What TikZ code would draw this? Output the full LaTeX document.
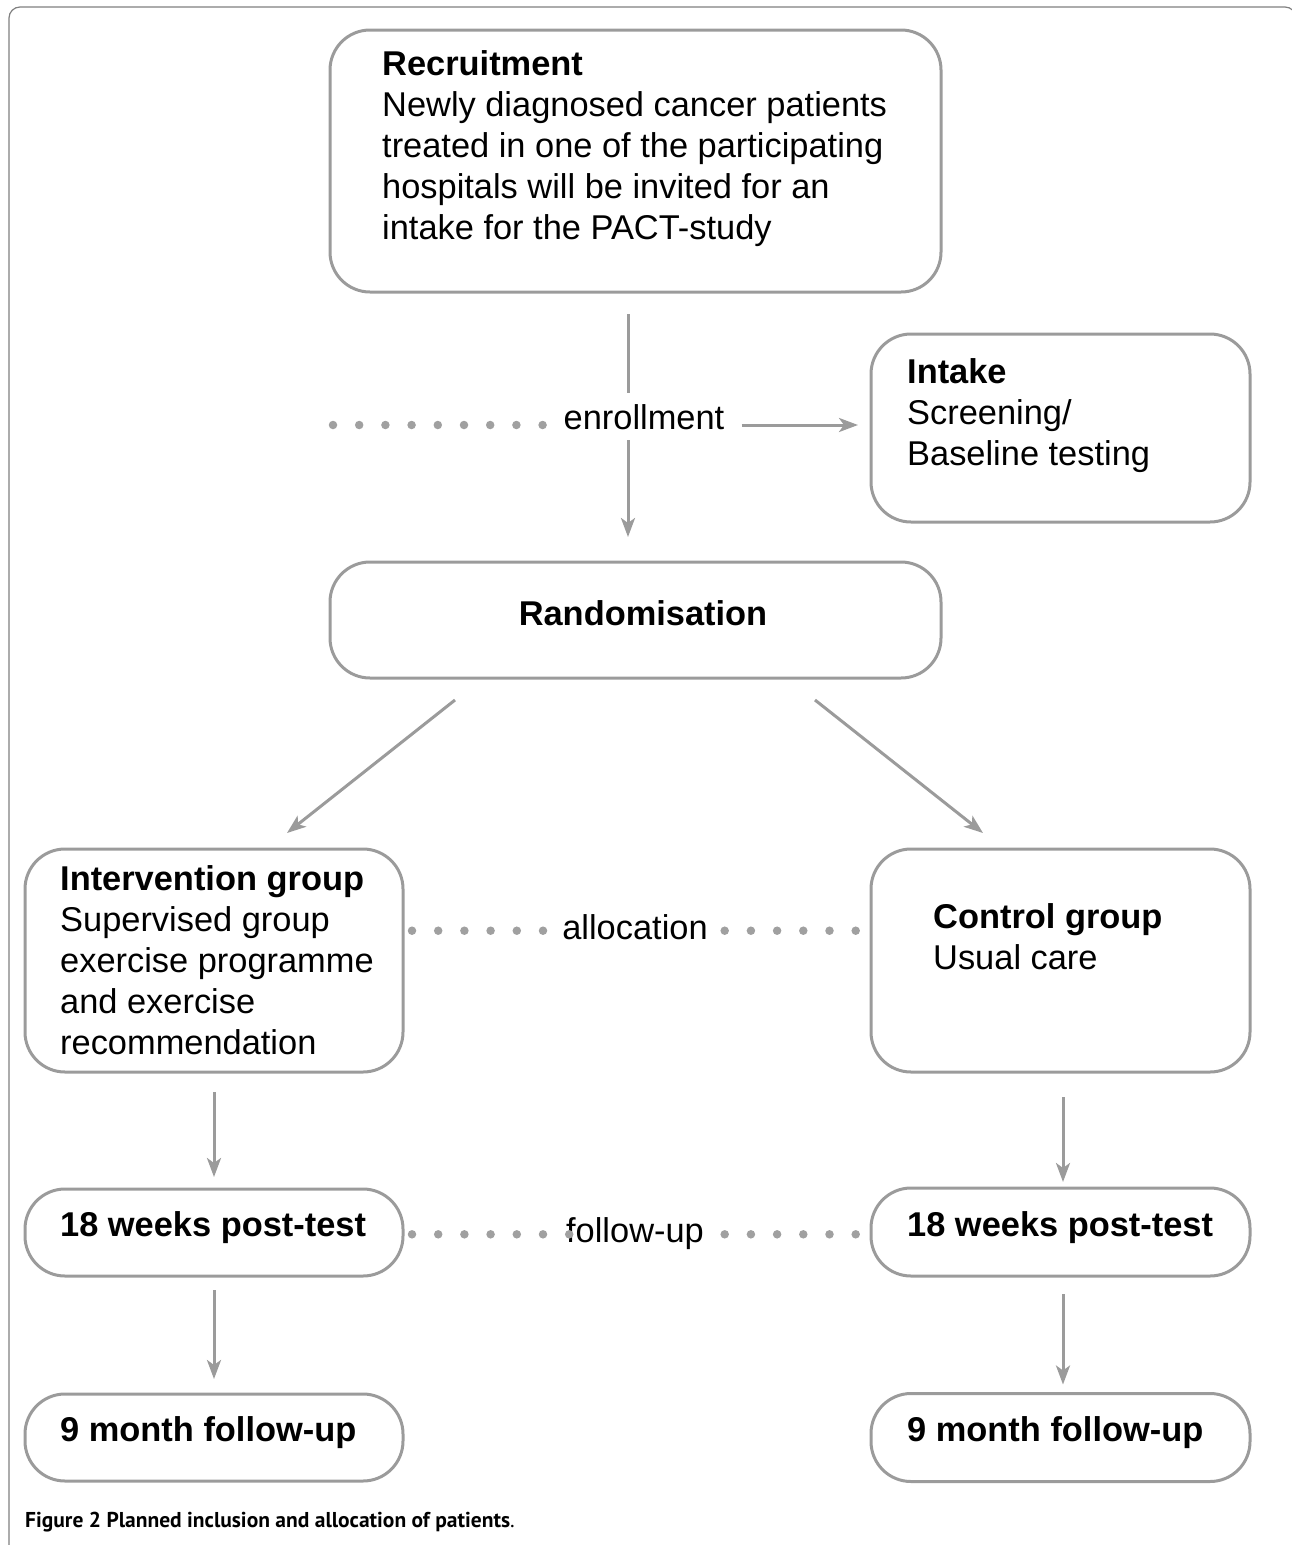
\documentclass[tikz,border=0pt]{standalone}
\usepackage{fontspec}
\setmainfont{Liberation Sans}
\newfontfamily\capfont{PT Sans}
\usetikzlibrary{arrows.meta}
\definecolor{linegray}{HTML}{9B9B9B}
\definecolor{dotgray}{HTML}{A0A0A0}
\definecolor{framegray}{HTML}{808080}
\begin{document}
\begin{tikzpicture}[x=1pt,y=-1pt,
  box/.style={draw=linegray,line width=3pt,rounded corners=40pt,inner sep=0pt,outer sep=0pt},
  txt/.style={font=\fontsize{34.4}{41}\selectfont,align=left,anchor=base west,inner sep=0pt},
  lbl/.style={font=\fontsize{34.4}{41}\selectfont,anchor=base,inner xsep=10pt,inner ysep=0pt,text height=25pt,text depth=8pt},
  ln/.style={draw=linegray,line width=3pt},
  arr/.style={ln,-{Stealth[length=19pt,width=14pt,inset=5pt]}},
  dotln/.style={draw=dotgray,line width=8.5pt,line cap=round,dash pattern=on 0pt off 26.2pt},
  frame/.style={draw=framegray,line width=1.2pt,rounded corners=11pt}]
\useasboundingbox (0,0) rectangle (1292,1545);
\draw[frame] (9,1560) -- (9,7) -- (1296,7) -- (1296,1560);

% boxes
\node[box,minimum width=611pt,minimum height=262pt] (recr) at (635.5,161) {};
\node[box,minimum width=379pt,minimum height=188pt] (intake) at (1060.5,428) {};
\node[box,minimum width=611pt,minimum height=116pt] (rand) at (635.5,620) {};
\node[box,minimum width=378pt,minimum height=223pt] (interv) at (214,960.5) {};
\node[box,minimum width=379pt,minimum height=223pt] (control) at (1060.5,960.5) {};
\node[box,minimum width=378pt,minimum height=87pt] (ptl) at (214,1232.5) {};
\node[box,minimum width=379pt,minimum height=88pt] (ptr) at (1060.5,1232) {};
\node[box,minimum width=378pt,minimum height=87pt] (ful) at (214,1437.5) {};
\node[box,minimum width=379pt,minimum height=88pt] (fur) at (1060.5,1437.5) {};

% texts (base anchor = baseline of last line)
\node[txt] (recrT) at (382,239) {\textbf{Recruitment}\\Newly diagnosed cancer patients\\treated in one of the participating\\hospitals will be invited for an\\intake for the PACT-study};
\node[txt] (intakeT) at (907,465) {\textbf{Intake}\\Screening/\\Baseline testing};
\node[txt,anchor=base] (randT) at (643,625) {\textbf{Randomisation}};
\node[txt] (intervT) at (60,1054) {\textbf{Intervention group}\\Supervised group\\exercise programme\\and exercise\\recommendation};
\node[txt] (controlT) at (933,969) {\textbf{Control group}\\Usual care};
\node[txt] (ptlT) at (60,1236) {\textbf{18 weeks post-test}};
\node[txt] (ptrT) at (907,1236) {\textbf{18 weeks post-test}};
\node[txt] (fulT) at (60,1441) {\textbf{9 month follow-up}};
\node[txt] (furT) at (907,1441) {\textbf{9 month follow-up}};

% labels
\node[lbl] (enr) at (644,429) {enrollment};
\node[lbl] (alloc) at (635,939) {allocation};
\node[lbl] (fu) at (635,1242) {follow-up};

% helper coordinates
\coordinate (mx) at (628,0);
\coordinate (ey) at (0,425);
\coordinate (ay) at (0,930.7);
\coordinate (fy) at (0,1234.3);
\coordinate (dstart) at (333,425);

% enrollment
\draw[ln,shorten <=22pt,shorten >=11pt] (recr.south -| mx) -- (enr.north -| mx);
\draw[arr,shorten <=3pt,shorten >=25pt] (enr.south -| mx) -- (rand.north -| mx);
\draw[arr,shorten <=7pt,shorten >=13pt] (enr.east |- ey) -- (intake.west |- ey);
\draw[dotln] (dstart) -- (enr.west |- ey);

% randomisation split
\draw[arr] ([xshift=125pt,yshift=-22pt]rand.south west) -- ([xshift=262pt,yshift=16pt]interv.north west);
\draw[arr] ([xshift=-126pt,yshift=-22pt]rand.south east) -- ([xshift=112pt,yshift=16pt]control.north west);

% allocation dots
\draw[dotln,dash phase=17.2pt] (interv.east |- ay) -- (alloc.west |- ay);
\draw[dotln,dash phase=10.9pt] (control.west |- ay) -- (alloc.east |- ay);

% follow-up dots
\draw[dotln,dash phase=17.2pt] (ptl.east |- fy) -- ([xshift=20pt]fu.west |- fy);
\draw[dotln,dash phase=10.9pt] (ptr.west |- fy) -- (fu.east |- fy);

% vertical arrows
\draw[arr,shorten <=20pt,shorten >=12pt] (interv.south) -- (ptl.north);
\draw[arr,shorten <=25pt,shorten >=6pt] ([xshift=2.5pt]control.south) -- ([xshift=2.5pt]ptr.north);
\draw[arr,shorten <=14pt,shorten >=15pt] (ptl.south) -- (ful.north);
\draw[arr,shorten <=18pt,shorten >=9pt] ([xshift=2.5pt]ptr.south) -- ([xshift=2.5pt]fur.north);

% caption
\node[anchor=base west,inner sep=0pt,font=\capfont\fontsize{21.5}{24}\selectfont] (cap) at (25,1527) {\textbf{Figure 2 Planned inclusion and allocation of patients}.};
\end{tikzpicture}
\end{document}
